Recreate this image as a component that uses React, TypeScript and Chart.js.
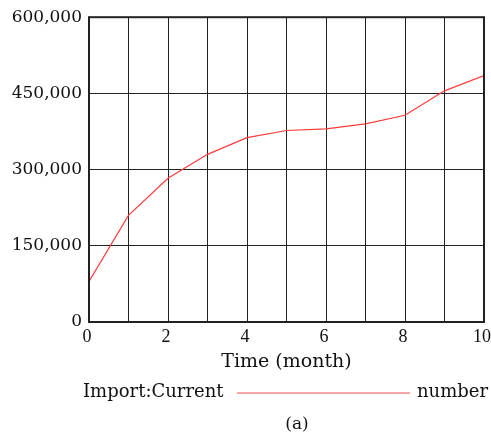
import React, { useEffect, useRef } from "react";
import { Chart, registerables } from "chart.js";

Chart.register(...registerables);

const months = [0, 1, 2, 3, 4, 5, 6, 7, 8, 9, 10];
const importCurrent = [80000, 210000, 283000, 330000, 363000, 377000, 380000, 390000, 407000, 455000, 485000];
const yTicks = [0, 150000, 300000, 450000, 600000];
const xTitle = "Time (month)";
const legendLeft = "Import:Current";
const legendRight = "number";
const caption = "(a)";

const FONT = "'DejaVu Serif', serif";

const framePlugin = {
  id: "frame",
  afterDraw(chart: any) {
    const { ctx, chartArea } = chart;
    ctx.save();
    ctx.strokeStyle = "#222";
    ctx.lineWidth = 2;
    ctx.strokeRect(chartArea.left, chartArea.top, chartArea.right - chartArea.left, chartArea.bottom - chartArea.top);
    // legend row
    ctx.font = `18px ${FONT}`;
    ctx.fillStyle = "#111";
    ctx.textBaseline = "middle";
    ctx.textAlign = "left";
    ctx.fillText(legendLeft, 83, 392);
    ctx.textAlign = "right";
    ctx.fillText(legendRight, 488, 392);
    ctx.strokeStyle = "#f48a8a";
    ctx.lineWidth = 1.5;
    ctx.beginPath();
    ctx.moveTo(237, 393);
    ctx.lineTo(410, 393);
    ctx.stroke();
    ctx.font = `17px ${FONT}`;
    ctx.textAlign = "center";
    ctx.fillText(caption, 297, 425);
    ctx.restore();
  },
};

export default function App() {
  const ref = useRef<HTMLCanvasElement>(null);
  useEffect(() => {
    if (!ref.current) return;
    const chart = new Chart(ref.current, {
      type: "line",
      data: {
        datasets: [
          {
            label: legendLeft,
            data: months.map((m, i) => ({ x: m, y: importCurrent[i] })),
            borderColor: "#ff3b3b",
            borderWidth: 1.2,
            pointRadius: 0,
            tension: 0,
            fill: false,
          },
        ],
      },
      options: {
        animation: false,
        responsive: false,
        maintainAspectRatio: false,
        layout: { padding: { left: 0, top: 15, right: 7, bottom: 60 } },
        plugins: { legend: { display: false }, tooltip: { enabled: false } },
        scales: {
          x: {
            type: "linear",
            min: 0,
            max: 10,
            grid: { color: "#222", lineWidth: 1, drawTicks: false },
            border: { display: false },
            ticks: {
              stepSize: 1,
              autoSkip: false,
              maxRotation: 0,
              padding: 4,
              labelOffset: -2,
              color: "#111",
              font: { family: "'Liberation Serif', serif", size: 18 },
              callback: (v: any) => (Number(v) % 2 === 0 ? String(v) : ""),
            },
            title: {
              display: true,
              text: xTitle,
              color: "#111",
              font: { family: FONT, size: 19 },
              padding: { top: 0, bottom: 4 },
            },
            afterFit: (s: any) => {
              s.height = 55;
              s.paddingLeft = 0;
              s.paddingRight = 0;
            },
          },
          y: {
            min: 0,
            max: 600000,
            afterBuildTicks: (s: any) => {
              s.ticks = yTicks.map((v) => ({ value: v }));
            },
            grid: { color: "#222", lineWidth: 1, drawTicks: false },
            border: { display: false },
            ticks: {
              padding: 7,
              color: "#111",
              font: { family: FONT, size: 17 },
              callback: (v: any) => Number(v).toLocaleString("en-US"),
            },
            afterFit: (s: any) => {
              s.width = 89;
            },
          },
        },
      },
      plugins: [framePlugin],
    });
    return () => chart.destroy();
  }, []);
  return (
    <div style={{ position: "fixed", left: 0, top: 0, width: 491, height: 437, background: "#fff" }}>
      <canvas ref={ref} width={491} height={437} style={{ width: 491, height: 437 }} />
    </div>
  );
}
